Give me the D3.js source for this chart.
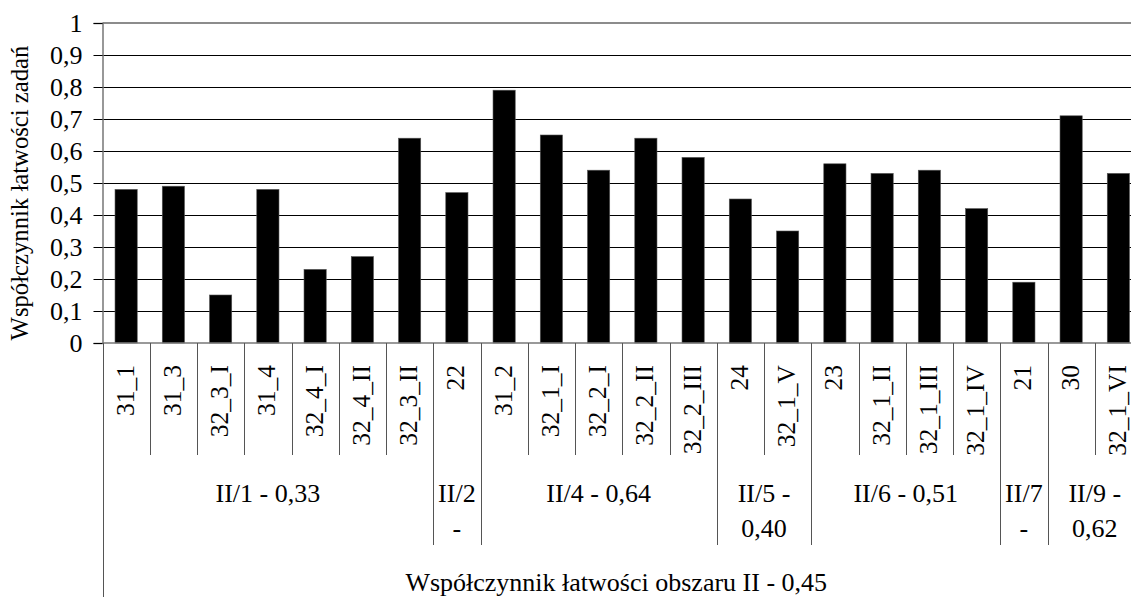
<!DOCTYPE html>
<html>
<head>
<meta charset="utf-8">
<script src="https://cdn.jsdelivr.net/npm/d3@7"></script>
<style>
  html, body { margin: 0; padding: 0; background: #fff; overflow: hidden; }
</style>
</head>
<body>
<svg id="chart" width="1131" height="597"></svg>
<script>
// Task codes (level 1 of the category axis), left to right.
const tasks = [
  "31_1", "31_3", "32_3_I", "31_4", "32_4_I", "32_4_II", "32_3_II",
  "22",
  "31_2", "32_1_I", "32_2_I", "32_2_II", "32_2_III",
  "24", "32_1_V",
  "23", "32_1_II", "32_1_III", "32_1_IV",
  "21",
  "30", "32_1_VI"
];

// Easiness coefficient per task.
const values = [
  0.48, 0.49, 0.15, 0.48, 0.23, 0.27, 0.64,
  0.47,
  0.79, 0.65, 0.54, 0.64, 0.58,
  0.45, 0.35,
  0.56, 0.53, 0.54, 0.42,
  0.19,
  0.71, 0.53
];

// Level 2: skill groups, how many tasks each spans, and their (wrapped) labels.
const groupSizes  = [7, 1, 5, 2, 4, 1, 2];
const groupLabels = [
  ["II/1 - 0,33"],
  ["II/2", "-"],
  ["II/4 - 0,64"],
  ["II/5 -", "0,40"],
  ["II/6 - 0,51"],
  ["II/7", "-"],
  ["II/9 -", "0,62"]
];

// Level 3: the whole area.
const areaLabel = "Współczynnik łatwości obszaru II - 0,45";

const yTicks      = [0, 0.1, 0.2, 0.3, 0.4, 0.5, 0.6, 0.7, 0.8, 0.9, 1];
const yTickLabels = ["0", "0,1", "0,2", "0,3", "0,4", "0,5", "0,6", "0,7", "0,8", "0,9", "1"];
const yTitle      = "Współczynnik łatwości zadań";

// ---- layout ----
const plotLeft = 102.5, plotTop = 23, plotBottom = 343, step = 47.25;
const lvl1End = 455, lvl2End = 545, lvl3End = 597;
const FONT = "Liberation Serif";
const fontSize = 26;        // horizontal labels
const rotFontSize = 25.5;   // rotated task labels
const titleFontSize = 24.7; // y-axis title

const svg = d3.select("#chart").attr("font-family", FONT);

const x = d3.scaleBand()
  .domain(tasks)
  .range([plotLeft, plotLeft + step * tasks.length])
  .padding(0);

const y = d3.scaleLinear().domain([0, 1]).range([plotBottom, plotTop]);

const barW = x.bandwidth() * 0.47;

// Horizontal gridlines (0.1 .. 0.9), black.
svg.append("g")
  .selectAll("line")
  .data(yTicks.filter(t => t > 0 && t < 1))
  .join("line")
  .attr("x1", plotLeft).attr("x2", x.range()[1])
  .attr("y1", d => Math.round(y(d)) + 0.5)
  .attr("y2", d => Math.round(y(d)) + 0.5)
  .attr("stroke", "#000")
  .attr("stroke-width", 1);

// Plot-area top border, grey.
svg.append("line")
  .attr("x1", plotLeft).attr("x2", x.range()[1])
  .attr("y1", y(1)).attr("y2", y(1))
  .attr("stroke", "#8c8c8c")
  .attr("stroke-width", 2);

// Bars.
svg.append("g")
  .selectAll("rect")
  .data(tasks)
  .join("rect")
  .attr("x", d => x(d) + (x.bandwidth() - barW) / 2)
  .attr("y", (d, i) => y(values[i]))
  .attr("width", barW)
  .attr("height", (d, i) => y(0) - y(values[i]))
  .attr("fill", "#000")
  .attr("stroke", "#555")
  .attr("stroke-width", 0.6);

// Y axis with ticks and comma-decimal labels.
const yAxis = d3.axisLeft(y)
  .tickValues(yTicks)
  .tickSize(9)
  .tickPadding(11)
  .tickFormat((d, i) => yTickLabels[i]);

const yG = svg.append("g")
  .attr("transform", `translate(${plotLeft},0)`)
  .call(yAxis)
  .attr("font-family", FONT)
  .attr("font-size", fontSize);
yG.select(".domain").attr("stroke", "#777").attr("stroke-width", 1.5);
yG.selectAll(".tick line").attr("stroke", "#000");
yG.selectAll(".tick text").attr("fill", "#000");

// X axis baseline.
svg.append("line")
  .attr("x1", plotLeft).attr("x2", x.range()[1])
  .attr("y1", y(0)).attr("y2", y(0))
  .attr("stroke", "#777")
  .attr("stroke-width", 1.5);

// ---- multi-level category axis ----
const sepColor = "#555";

// group boundaries (index of the first task of each group)
const groupStarts = [];
groupSizes.reduce((acc, n) => { groupStarts.push(acc); return acc + n; }, 0);
const groupEdges = new Set(groupStarts.concat([tasks.length]));

// Separators: short between tasks, longer between groups, full height at the left.
const edges = d3.range(tasks.length + 1);
svg.append("g")
  .selectAll("line")
  .data(edges)
  .join("line")
  .attr("x1", i => Math.round(plotLeft + i * step) + 0.5)
  .attr("x2", i => Math.round(plotLeft + i * step) + 0.5)
  .attr("y1", plotBottom)
  .attr("y2", i => i === 0 ? lvl3End : (groupEdges.has(i) ? lvl2End : lvl1End))
  .attr("stroke", sepColor)
  .attr("stroke-width", 1);

// Level-1 labels: rotated, top-aligned.
svg.append("g")
  .attr("font-family", FONT)
  .attr("font-size", rotFontSize)
  .selectAll("text")
  .data(tasks)
  .join("text")
  .attr("transform", d => `translate(${x(d) + x.bandwidth() / 2 + 7.5},${plotBottom + 22}) rotate(-90)`)
  .attr("text-anchor", "end")
  .text(d => d);

// Level-2 labels (top-aligned, wrapped where the slot is narrow).
const groups = groupSizes.map((n, i) => {
  const s = groupStarts[i];
  return { lines: groupLabels[i], cx: plotLeft + (s + n / 2) * step };
});
const g2 = svg.append("g").attr("font-family", FONT).attr("font-size", fontSize);
groups.forEach(gr => {
  const t = g2.append("text")
    .attr("x", gr.cx)
    .attr("y", 502)
    .attr("text-anchor", "middle");
  gr.lines.forEach((ln, k) => {
    t.append("tspan")
      .attr("x", gr.cx)
      .attr("dy", k === 0 ? 0 : 35)
      .text(ln);
  });
});

// Level-3 label.
svg.append("text")
  .attr("x", plotLeft + tasks.length * step / 2 - 6)
  .attr("y", 591)
  .attr("text-anchor", "middle")
  .attr("font-family", FONT)
  .attr("font-size", fontSize)
  .text(areaLabel);

// Y-axis title.
svg.append("text")
  .attr("transform", `translate(27.5,${(plotTop + plotBottom) / 2 + 10}) rotate(-90)`)
  .attr("text-anchor", "middle")
  .attr("font-family", FONT)
  .attr("font-size", titleFontSize)
  .text(yTitle);
</script>
</body>
</html>
